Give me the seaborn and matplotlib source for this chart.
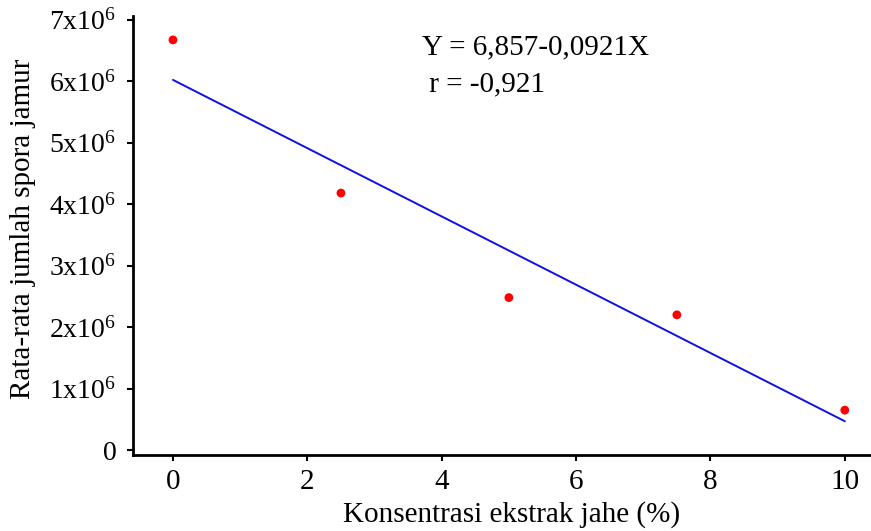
import matplotlib
matplotlib.use("Agg")
import matplotlib.pyplot as plt
import seaborn as sns
import pandas as pd

# Data
konsentrasi = [0, 2.5, 5, 7.5, 10]
spora = [6.67e6, 4.18e6, 2.48e6, 2.20e6, 0.65e6]
fit_x = [0, 10]
fit_y = [6.02e6, 0.47e6]
x_ticks = [0, 2, 4, 6, 8, 10]
y_ticks = [0, 1e6, 2e6, 3e6, 4e6, 5e6, 6e6, 7e6]
y_tick_labels = ["0"] + [f"{n}x10$^{{6}}$" for n in range(1, 8)]
equation_lines = ["Y = 6,857-0,0921X", " r = -0,921"]

sns.set_style("ticks")
plt.rcParams["font.family"] = ["Liberation Serif", "DejaVu Serif"]
plt.rcParams["mathtext.fontset"] = "custom"
plt.rcParams["mathtext.rm"] = "Liberation Serif"
plt.rcParams["mathtext.it"] = "Liberation Serif:italic"
for key in ["text.color", "axes.labelcolor", "xtick.color", "ytick.color"]:
    plt.rcParams[key] = "black"

FS = 21

fig = plt.figure(figsize=(8.71, 5.31), dpi=100)
ax = fig.add_axes([0.1527, 0.143, 0.8473, 0.827])

df_pts = pd.DataFrame({"x": konsentrasi, "y": spora})
df_fit = pd.DataFrame({"x": fit_x, "y": fit_y})

sns.lineplot(data=df_fit, x="x", y="y", ax=ax, color="#1010e0", linewidth=1.4)
sns.scatterplot(data=df_pts, x="x", y="y", ax=ax, color="#ff0000", s=40,
                edgecolor="none", zorder=3)

ax.set_xlim(-0.595, 10.39)
ax.set_ylim(-0.08e6, 7.06e6)
ax.set_xticks(x_ticks)
ax.set_xticklabels([str(t) for t in x_ticks], fontsize=FS)
ax.set_yticks(y_ticks)
ax.set_yticklabels(y_tick_labels, fontsize=20)
ax.tick_params(axis="both", direction="out", length=4, width=1.5, color="black")
ax.tick_params(axis="x", pad=6)
ax.tick_params(axis="y", pad=8)

for side in ["top", "right"]:
    ax.spines[side].set_visible(False)
for side in ["left", "bottom"]:
    ax.spines[side].set_linewidth(2)
    ax.spines[side].set_color("black")

ax.set_xlabel("Konsentrasi ekstrak jahe (%)", fontsize=FS)
ax.xaxis.set_label_coords(0.513, -0.105)
ax.set_ylabel("Rata-rata jumlah spora jamur", fontsize=FS)
ax.yaxis.set_label_coords(-0.132, 0.515)

ax.text(0.391, 0.928, equation_lines[0], transform=ax.transAxes, fontsize=FS,
        ha="left", va="center")
ax.text(0.391, 0.845, equation_lines[1], transform=ax.transAxes, fontsize=FS,
        ha="left", va="center")

fig.savefig("out.png", dpi=100)
